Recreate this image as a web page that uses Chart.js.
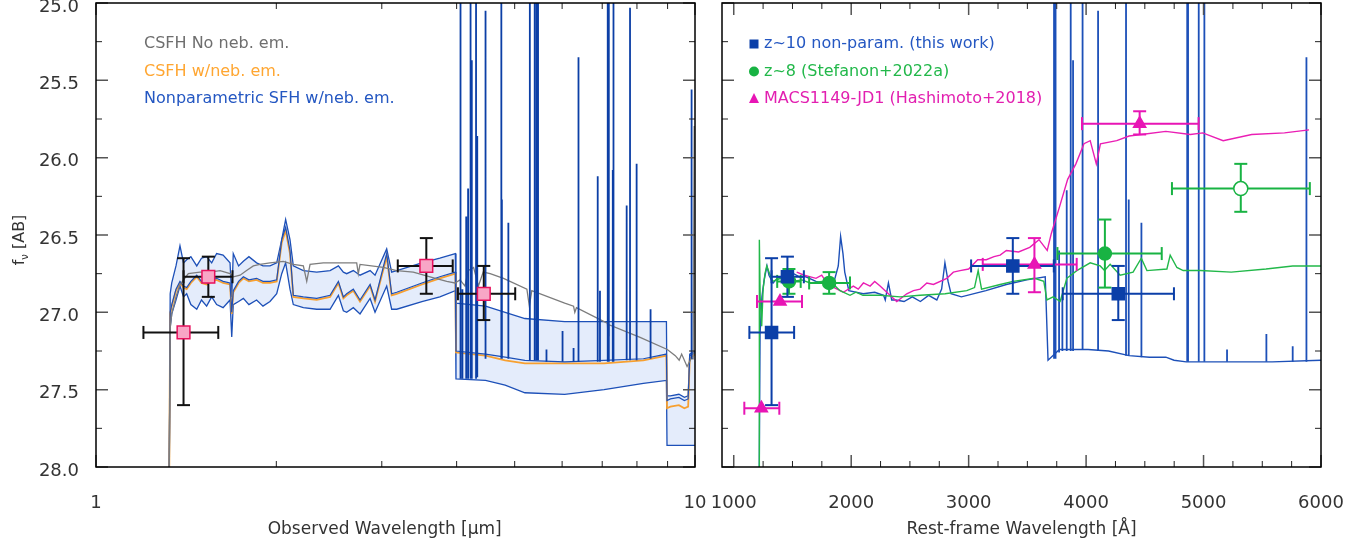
<!DOCTYPE html>
<html>
<head>
<meta charset="utf-8" />
<title>SED comparison</title>
<style>
  body { margin: 0; background: #fff; }
  #wrap { position: relative; width: 1372px; height: 547px; }
  #left_box { position: absolute; left: 0; top: 0; }
  #right_box { position: absolute; left: 690px; top: 0; }
</style>
</head>
<body>
<div id="wrap">
  <div id="left_box"><canvas id="sed_obs" width="720" height="547"></canvas></div>
  <div id="right_box"><canvas id="sed_rest" width="682" height="547"></canvas></div>
</div>

<script src="https://cdn.jsdelivr.net/npm/chart.js"></script>
<script>

// ---------- left panel: observed frame (micron, AB mag) ----------
lamBand = [1.324, 1.330, 1.338, 1.36, 1.381, 1.40, 1.417, 1.44, 1.473, 1.50,
           1.53, 1.56, 1.59, 1.63, 1.674, 1.685, 1.695, 1.73, 1.762, 1.80,
           1.854, 1.90, 1.952, 2.003, 2.042, 2.073, 2.108, 2.135, 2.219, 2.336,
           2.459, 2.539, 2.588, 2.621, 2.689, 2.759, 2.868, 2.923, 3.057, 3.116,
           3.177, 3.50, 3.75, 3.98, 3.99, 4.47, 4.82, 5.20, 6.06, 7.05,
           8.20, 8.96, 8.98, 9.10, 9.40, 9.60, 9.74, 9.80, 10.0];
upperBand = [28.3, 26.88, 26.81, 26.70, 26.57, 26.68, 26.66, 26.64, 26.70, 26.65,
             26.64, 26.68, 26.62, 26.63, 26.68, 26.90, 26.62, 26.70, 26.67, 26.64,
             26.68, 26.70, 26.70, 26.68, 26.53, 26.40, 26.53, 26.70, 26.73, 26.74,
             26.73, 26.70, 26.74, 26.75, 26.73, 26.76, 26.73, 26.76, 26.59, 26.74,
             26.73, 26.68, 26.65, 26.62, 26.94, 26.96, 27.00, 27.04, 27.06, 27.06,
             27.06, 27.06, 27.54, 27.54, 27.53, 27.55, 27.54, 27.27, 27.25];
medianBand = [28.3, 27.00, 26.95, 26.85, 26.80, 26.83, 26.84, 26.80, 26.76, 26.80,
              26.81, 26.79, 26.78, 26.80, 26.81, 27.00, 26.86, 26.80, 26.77, 26.79,
              26.78, 26.80, 26.80, 26.79, 26.53, 26.45, 26.60, 26.89, 26.90, 26.91,
              26.89, 26.80, 26.90, 26.88, 26.85, 26.92, 26.82, 26.92, 26.62, 26.88,
              26.87, 26.81, 26.77, 26.74, 27.25, 27.27, 27.29, 27.31, 27.32, 27.31,
              27.30, 27.27, 27.57, 27.56, 27.55, 27.57, 27.56, 27.28, 27.26];
lowerBand = [28.3, 27.10, 27.01, 26.92, 26.83, 26.90, 26.88, 26.95, 26.98, 26.92,
             26.96, 26.90, 26.95, 26.97, 26.92, 27.16, 26.95, 26.93, 26.91, 26.95,
             26.92, 26.96, 26.93, 26.88, 26.75, 26.68, 26.85, 26.95, 26.97, 26.98,
             26.98, 26.89, 26.99, 27.00, 26.97, 27.01, 26.91, 27.00, 26.83, 26.98,
             26.98, 26.93, 26.90, 26.86, 27.43, 27.44, 27.47, 27.52, 27.53, 27.50,
             27.46, 27.44, 27.86, 27.86, 27.86, 27.86, 27.86, 27.86, 27.86];
csfhNeb = [28.3, 27.01, 26.96, 26.86, 26.81, 26.84, 26.85, 26.81, 26.77, 26.81,
           26.82, 26.80, 26.79, 26.81, 26.82, 27.01, 26.87, 26.81, 26.78, 26.80,
           26.79, 26.81, 26.81, 26.80, 26.55, 26.47, 26.62, 26.90, 26.91, 26.92,
           26.90, 26.81, 26.91, 26.89, 26.86, 26.93, 26.83, 26.93, 26.64, 26.89,
           26.88, 26.82, 26.78, 26.75, 27.26, 27.28, 27.31, 27.33, 27.33, 27.33,
           27.31, 27.28, 27.62, 27.61, 27.60, 27.62, 27.61, 27.30, 27.27];

lamGray = [1.324, 1.330, 1.338, 1.36, 1.381, 1.426, 1.491, 1.55, 1.611, 1.674,
           1.695, 1.74, 1.784, 1.831, 1.878, 1.952, 2.054, 2.135, 2.219, 2.248,
           2.277, 2.396, 2.522, 2.724, 2.741, 2.759, 3.017, 3.177, 3.386, 3.611,
           3.851, 3.975, 4.053, 4.13, 4.18, 4.27, 4.35, 4.43, 4.55, 4.79,
           5.24, 5.29, 5.34, 6.06, 6.27, 6.30, 6.34, 7.05, 7.14, 7.16,
           7.18, 8.08, 8.99, 9.27, 9.41, 9.50, 9.70, 9.85, 9.93, 9.97, 10.0];
csfhNoNeb = [28.3, 27.10, 27.01, 26.90, 26.82, 26.75, 26.74, 26.74, 26.73, 26.75,
             26.77, 26.76, 26.73, 26.70, 26.69, 26.68, 26.67, 26.69, 26.70, 26.80,
             26.69, 26.68, 26.68, 26.68, 26.75, 26.69, 26.71, 26.73, 26.74, 26.77,
             26.80, 26.81, 26.79, 26.83, 26.73, 26.71, 26.83, 26.74, 26.75, 26.78,
             26.85, 26.96, 26.86, 26.94, 26.96, 27.00, 26.97, 27.06, 27.07, 27.15,
             27.08, 27.16, 27.24, 27.28, 27.31, 27.27, 27.35, 27.30, 27.30, 25.80, 25.80];

// emission lines of the nonparametric model (observed frame)
lineLamObs = [4.06, 4.09, 4.15, 4.18, 4.22, 4.24, 4.31, 4.33, 4.47, 4.75,
              4.76, 4.88, 5.30, 5.40, 5.44, 5.47, 5.65, 6.01, 6.27, 6.39,
              6.88, 6.94, 7.15, 7.18, 7.29, 7.31, 7.69, 7.79, 7.99, 8.43, 9.87];
lineBaseObs = [27.43, 27.43, 27.43, 27.43, 27.43, 27.43, 27.43, 27.42, 27.30, 27.30,
               27.30, 27.30, 27.31, 27.31, 27.31, 27.31, 27.32, 27.32, 27.32, 27.32,
               27.32, 27.32, 27.32, 27.32, 27.32, 27.32, 27.31, 27.31, 27.31, 27.30, 27.30];
linePeakObs = [24.5, 26.85, 26.38, 26.20, 24.5, 25.37, 24.5, 25.86, 25.05, 24.5,
               26.27, 26.42, 24.5, 24.5, 24.5, 24.5, 27.24, 27.12, 27.23, 25.35,
               26.12, 26.86, 24.5, 24.5, 26.08, 24.5, 26.31, 25.03, 26.04, 26.98, 25.56];

// photometry
photLam = [1.40, 1.54, 3.56, 4.44];
photLamLo = [1.20, 1.40, 3.19, 4.02];
photLamHi = [1.60, 1.69, 3.94, 5.01];
photMag = [27.13, 26.77, 26.70, 26.88];
photMagLo = [26.65, 26.64, 26.52, 26.70];
photMagHi = [27.60, 26.90, 26.88, 27.05];

// ---------- right panel: rest frame (Angstrom) ----------
restLam = [1215, 1224, 1240, 1259, 1283, 1300, 1335, 1370, 1405, 1460,
           1510, 1560, 1614, 1700, 1753, 1858, 1890, 1910, 1930, 1945,
           1980, 2102, 2200, 2276, 2290, 2317, 2345, 2380, 2450, 2520,
           2589, 2659, 2729, 2770, 2798, 2825, 2850, 2938, 3147, 3321,
           3495, 3652, 3676, 3773, 4017, 4191, 4366, 4540, 4679, 4749,
           4853, 5062, 5236, 5585, 6003];
restMag = [28.3, 27.14, 26.90, 26.79, 26.70, 26.76, 26.81, 26.78, 26.77, 26.76,
           26.75, 26.77, 26.77, 26.80, 26.81, 26.79, 26.70, 26.51, 26.62, 26.74,
           26.86, 26.88, 26.87, 26.89, 26.92, 26.81, 26.92, 26.92, 26.93, 26.90,
           26.93, 26.89, 26.92, 26.85, 26.68, 26.80, 26.88, 26.90, 26.86, 26.82,
           26.79, 26.77, 27.31, 27.24, 27.24, 27.25, 27.28, 27.29, 27.29, 27.31,
           27.32, 27.32, 27.32, 27.32, 27.31];
restLineLam = [3727, 3740, 3770, 3798, 3835, 3869, 3889, 3970, 4102, 4340,
               4363, 4471, 4861, 4868, 4959, 5007, 5200, 5535, 5759, 5876];
restLineBase = [27.30, 27.30, 27.26, 27.25, 27.25, 27.25, 27.25, 27.24, 27.25, 27.28,
                27.28, 27.29, 27.32, 27.32, 27.32, 27.32, 27.32, 27.32, 27.32, 27.32];
restLinePeak = [24.5, 24.5, 26.60, 26.90, 26.21, 24.5, 25.37, 24.5, 25.05, 24.5,
                26.27, 26.42, 24.5, 24.5, 24.5, 24.5, 27.24, 27.14, 27.22, 25.35];

z8ModelLam = [1218, 1218, 1225, 1238, 1250, 1266, 1281, 1330, 1400, 1500,
              1580, 1650, 1750, 1850, 1905, 1990, 2040, 2100, 2246, 2416,
              2587, 2800, 2984, 3050, 3081, 3110, 3268, 3379, 3560, 3640,
              3666, 3720, 3779, 3836, 3921, 4035, 4120, 4157, 4205, 4290,
              4400, 4470, 4518, 4688, 4716, 4773, 4827, 4972, 5236, 5532,
              5759, 6003];
z8ModelMag = [28.3, 26.53, 26.90, 27.09, 26.85, 26.75, 26.70, 26.80, 26.78, 26.80,
              26.79, 26.81, 26.80, 26.82, 26.86, 26.89, 26.87, 26.89, 26.89, 26.90,
              26.89, 26.88, 26.86, 26.84, 26.73, 26.85, 26.82, 26.80, 26.78, 26.80,
              26.92, 26.90, 26.93, 26.78, 26.73, 26.68, 26.70, 26.73, 26.69, 26.76,
              26.74, 26.65, 26.73, 26.72, 26.63, 26.71, 26.73, 26.73, 26.74, 26.72,
              26.70, 26.70];

jd1ModelLam = [1536, 1600, 1700, 1749, 1800, 1933, 2018, 2060, 2104, 2161,
               2200, 2246, 2303, 2388, 2473, 2530, 2587, 2644, 2700, 2814,
               2870, 2927, 3000, 3077, 3150, 3216, 3268, 3321, 3425, 3520,
               3599, 3669, 3704, 3773, 3843, 3913, 3982, 4035, 4087, 4122,
               4261, 4366, 4470, 4679, 4888, 4993, 5167, 5410, 5689, 5898];
jd1ModelMag = [26.74, 26.76, 26.78, 26.76, 26.82, 26.87, 26.83, 26.85, 26.81, 26.83,
               26.80, 26.83, 26.87, 26.93, 26.88, 26.86, 26.85, 26.81, 26.82, 26.78,
               26.74, 26.73, 26.72, 26.66, 26.66, 26.64, 26.63, 26.60, 26.61, 26.58,
               26.53, 26.60, 26.49, 26.32, 26.14, 26.04, 25.91, 25.89, 26.04, 25.91,
               25.89, 25.86, 25.85, 25.83, 25.85, 25.84, 25.89, 25.85, 25.84, 25.82];

// rest-frame photometry
z10Lam = [1322, 1457, 3376, 4274];
z10LamLo = [1133, 1322, 3021, 3801];
z10LamHi = [1514, 1597, 3725, 4748];
z8Lam = [1470, 1812, 4160];
z8LamLo = [1370, 1642, 3756];
z8LamHi = [1570, 1990, 4644];
z8Mag = [26.80, 26.81, 26.62];
z8MagLo = [26.72, 26.74, 26.40];
z8MagHi = [26.88, 26.88, 26.84];
z8OpenLam = [5317];
z8OpenLamLo = [4731];
z8OpenLamHi = [5905];
z8OpenMag = [26.20];
z8OpenMagLo = [26.04];
z8OpenMagHi = [26.35];
jd1Lam = [1235, 1394, 3560, 4456];
jd1LamLo = [1090, 1198, 3120, 3965];
jd1LamHi = [1388, 1581, 3920, 4958];
jd1Mag = [27.62, 26.93, 26.69, 25.78];
jd1MagLo = [null, null, 26.52, 25.70];
jd1MagHi = [null, null, 26.87, 25.85];

// axis ticks
yMajor = [25, 25.5, 26, 26.5, 27, 27.5, 28];
yMinor = [25.25, 25.75, 26.25, 26.75, 27.25, 27.75];
xMajorObs = [1, 10];
xMinorObs = [2, 3, 4, 5, 6, 7, 8, 9];
xMajorRest = [1000, 2000, 3000, 4000, 5000, 6000];
xMinorRest = [1250, 1500, 1750, 2250, 2500, 2750, 3250, 3500, 3750, 4250, 4500, 4750, 5250, 5500, 5750];

Chart.defaults.font.family = "'DejaVu Sans', sans-serif";
Chart.defaults.color = '#333';

function xy(xs, ys) {
  return xs.map((x, i) => ({x: x, y: ys[i]}));
}
function spikes(xs, base, peak) {
  var out = [];
  xs.forEach((x, i) => { out.push({x: x, y: base[i]}, {x: x, y: peak[i]}, {x: x, y: null}); });
  return out;
}
function vBars(xs, lo, hi) {
  var out = [];
  xs.forEach((x, i) => { if (lo[i] != null) out.push({x: x, y: lo[i]}, {x: x, y: hi[i]}, {x: x, y: null}); });
  return out;
}
function hBars(lo, hi, ys) {
  var out = [];
  ys.forEach((y, i) => { out.push({x: lo[i], y: y}, {x: hi[i], y: y}, {x: hi[i], y: null}); });
  return out;
}
function lineSet(data, color, width, order) {
  return { data: data, showLine: true, borderColor: color, borderWidth: width,
           pointRadius: 0, spanGaps: false, fill: false, order: order };
}
function barSet(data, color, rot, order) {
  return { data: data, showLine: true, borderColor: color, borderWidth: 2, spanGaps: false,
           pointStyle: 'line', pointRotation: rot, pointRadius: 6.5,
           pointBorderColor: color, pointBorderWidth: 2, order: order };
}
function markSet(data, style, radius, fill, edge, order) {
  return { data: data, pointStyle: style, pointRadius: radius, backgroundColor: fill,
           borderColor: edge, borderWidth: 1.5, order: order };
}
// keep the plot box fixed: no extra padding for edge labels
function noPad(s) {
  s.paddingTop = 0; s.paddingBottom = 0; s.paddingLeft = 0; s.paddingRight = 0;
}

// frame + inward ticks on all four sides
const framePlugin = {
  id: 'frame',
  afterDatasetsDraw(chart, args, o) {
    const {ctx, chartArea: a, scales} = chart;
    ctx.save();
    function ticks(vals, len, color, width) {
      ctx.strokeStyle = color; ctx.lineWidth = width;
      ctx.beginPath();
      vals.x.forEach(v => {
        const px = scales.x.getPixelForValue(v);
        ctx.moveTo(px, a.bottom); ctx.lineTo(px, a.bottom - len);
        ctx.moveTo(px, a.top); ctx.lineTo(px, a.top + len);
      });
      vals.y.forEach(v => {
        const py = scales.y.getPixelForValue(v);
        ctx.moveTo(a.left, py); ctx.lineTo(a.left + len, py);
        ctx.moveTo(a.right, py); ctx.lineTo(a.right - len, py);
      });
      ctx.stroke();
    }
    ticks({x: o.xMajor, y: yMajor}, 12, '#555', 1.5);
    ticks({x: o.xMinor, y: yMinor}, 6, '#222', 1);
    ctx.strokeStyle = '#000'; ctx.lineWidth = 1.5;
    ctx.strokeRect(a.left, a.top, a.right - a.left, a.bottom - a.top);
    ctx.restore();
  }
};

// legend texts and y title
const notesPlugin = {
  id: 'notes',
  afterDraw(chart, args, o) {
    const ctx = chart.ctx;
    ctx.save();
    ctx.font = "16px 'DejaVu Sans'";
    ctx.textBaseline = 'middle';
    o.items.forEach((it, i) => {
      const y = o.y0 + i * o.dy;
      ctx.fillStyle = it.color;
      ctx.fillText(it.text, o.x, y);
      if (it.marker) {
        const mx = o.x - 10;
        ctx.fillStyle = it.markerColor;
        ctx.beginPath();
        if (it.marker === 'rect') ctx.rect(mx - 4.5, y - 4.5, 9, 9);
        if (it.marker === 'circle') ctx.arc(mx, y, 5, 0, Math.PI * 2);
        if (it.marker === 'triangle') { ctx.moveTo(mx, y - 6); ctx.lineTo(mx + 5, y + 4); ctx.lineTo(mx - 5, y + 4); ctx.closePath(); }
        ctx.fill();
      }
    });
    if (o.yTitle) {
      ctx.translate(18, 240);
      ctx.rotate(-Math.PI / 2);
      ctx.fillStyle = '#333';
      ctx.textBaseline = 'alphabetic';
      ctx.font = "16px 'DejaVu Sans'";
      const wf = ctx.measureText('f').width;
      const wab = ctx.measureText(' [AB]').width;
      ctx.font = "10px 'DejaVu Sans'";
      const wn = ctx.measureText('ν').width;
      let x = -(wf + wn + wab) / 2;
      ctx.font = "16px 'DejaVu Sans'";
      ctx.fillText('f', x, 6);
      ctx.font = "10px 'DejaVu Sans'";
      ctx.fillText('ν', x + wf, 10);
      ctx.font = "16px 'DejaVu Sans'";
      ctx.fillText(' [AB]', x + wf + wn, 6);
    }
    ctx.restore();
  }
};

const bandFill = '#e4ecfb';
const blueLine = '#1d50b8';
const blueLineDark = '#0c3fa6';

// ---------- left chart ----------
var obsSets = [
  Object.assign(lineSet(xy(lamBand, upperBand), blueLine, 1.3, 7), { fill: 1, backgroundColor: bandFill }),
  lineSet(xy(lamBand, lowerBand), blueLine, 1.3, 7),
  lineSet(xy(lamBand, csfhNeb), '#f7a030', 1.8, 6),
  lineSet(xy(lamBand, medianBand), blueLine, 1.2, 5),
  lineSet(xy(lamGray, csfhNoNeb), '#7d7d7d', 1.3, 4),
  lineSet(spikes(lineLamObs, lineBaseObs, linePeakObs), blueLineDark, 1.8, 3),
  barSet(vBars(photLam, photMagLo, photMagHi), '#111', 0, 2),
  barSet(hBars(photLamLo, photLamHi, photMag), '#111', 90, 2),
  markSet(xy(photLam, photMag), 'rect', 9, '#f8a6c6', '#e8125e', 1)
];

var obs_chart = new Chart(document.getElementById('sed_obs'), {
  type: 'scatter',
  data: { datasets: obsSets },
  options: {
    responsive: false,
    animation: false,
    events: [],
    layout: { padding: { left: 0, right: 25, top: 3, bottom: 0 }, autoPadding: false },
    plugins: {
      legend: { display: false },
      tooltip: { enabled: false },
      filler: { drawTime: 'beforeDatasetsDraw' },
      frame: { xMajor: xMajorObs, xMinor: xMinorObs },
      notes: {
        x: 144, y0: 44, dy: 27.5, yTitle: true,
        items: [
          { text: 'CSFH No neb. em.', color: '#6e6e6e' },
          { text: 'CSFH w/neb. em.', color: '#ffa631' },
          { text: 'Nonparametric SFH w/neb. em.', color: '#2457c2' }
        ]
      }
    },
    scales: {
      x: {
        type: 'logarithmic', min: 1, max: 10,
        grid: { display: false }, border: { display: false },
        afterBuildTicks: (axis) => { axis.ticks = xMajorObs.map(v => ({ value: v })); },
        afterFit: (s) => { s.height = 80; noPad(s); },
        ticks: { font: { size: 18 }, padding: 18, maxRotation: 0, autoSkip: false, callback: (v) => String(v) },
        title: { display: true, text: 'Observed Wavelength [μm]\u00a0\u00a0\u00a0\u00a0', font: { size: 17 }, padding: { top: 0, bottom: 7 } }
      },
      y: {
        min: 25, max: 28, reverse: true,
        grid: { display: false }, border: { display: false },
        afterBuildTicks: (axis) => { axis.ticks = yMajor.map(v => ({ value: v })); },
        afterFit: (s) => { s.width = 96; noPad(s); },
        ticks: { font: { size: 18 }, padding: 9, labelOffset: 4, callback: (v) => v.toFixed(1) }
      }
    }
  },
  plugins: [framePlugin, notesPlugin]
});

// ---------- right chart ----------
const z10Blue = '#0b3fa8';
const z8Green = '#18b343';
const jd1Pink = '#e815b5';

var restSets = [
  lineSet(xy(restLam, restMag), blueLine, 1.4, 9),
  lineSet(spikes(restLineLam, restLineBase, restLinePeak), blueLine, 1.8, 9),
  lineSet(xy(z8ModelLam, z8ModelMag), '#22b84a', 1.4, 8),
  lineSet(xy(jd1ModelLam, jd1ModelMag), '#ea1eb4', 1.4, 8),
  barSet(vBars(z8Lam, z8MagLo, z8MagHi), z8Green, 0, 7),
  barSet(hBars(z8LamLo, z8LamHi, z8Mag), z8Green, 90, 7),
  barSet(vBars(z8OpenLam, z8OpenMagLo, z8OpenMagHi), z8Green, 0, 7),
  barSet(hBars(z8OpenLamLo, z8OpenLamHi, z8OpenMag), z8Green, 90, 7),
  barSet(vBars(jd1Lam, jd1MagLo, jd1MagHi), jd1Pink, 0, 6),
  barSet(hBars(jd1LamLo, jd1LamHi, jd1Mag), jd1Pink, 90, 6),
  barSet(vBars(z10Lam, photMagLo, photMagHi), z10Blue, 0, 5),
  barSet(hBars(z10LamLo, z10LamHi, photMag), z10Blue, 90, 5),
  markSet(xy(z8Lam, z8Mag), 'circle', 6.5, z8Green, z8Green, 3),
  markSet(xy(z8OpenLam, z8OpenMag), 'circle', 7, '#fff', z8Green, 3),
  markSet(xy(jd1Lam, jd1Mag), 'triangle', 7, jd1Pink, jd1Pink, 2),
  markSet(xy(z10Lam, photMag), 'rect', 8.5, z10Blue, z10Blue, 1)
];

var rest_chart = new Chart(document.getElementById('sed_rest'), {
  type: 'scatter',
  data: { datasets: restSets },
  options: {
    responsive: false,
    animation: false,
    events: [],
    layout: { padding: { left: 32, right: 51, top: 3, bottom: 0 }, autoPadding: false },
    plugins: {
      legend: { display: false },
      tooltip: { enabled: false },
      frame: { xMajor: xMajorRest, xMinor: xMinorRest },
      notes: {
        x: 74, y0: 44, dy: 27.5, yTitle: false,
        items: [
          { text: 'z~10 non-param. (this work)', color: '#2457c2', marker: 'rect', markerColor: z10Blue },
          { text: 'z~8 (Stefanon+2022a)', color: '#22b84a', marker: 'circle', markerColor: z8Green },
          { text: 'MACS1149-JD1 (Hashimoto+2018)', color: '#e21fb0', marker: 'triangle', markerColor: jd1Pink }
        ]
      }
    },
    scales: {
      x: {
        type: 'linear', min: 900, max: 6000,
        grid: { display: false }, border: { display: false },
        afterBuildTicks: (axis) => { axis.ticks = xMajorRest.map(v => ({ value: v })); },
        afterFit: (s) => { s.height = 80; noPad(s); },
        ticks: { font: { size: 18 }, padding: 18, maxRotation: 0, autoSkip: false, callback: (v) => String(v) },
        title: { display: true, text: 'Rest-frame Wavelength [Å]', font: { size: 17 }, padding: { top: 0, bottom: 7 } }
      },
      y: { display: false, min: 25, max: 28, reverse: true }
    }
  },
  plugins: [framePlugin, notesPlugin]
});

</script>
</body>
</html>
